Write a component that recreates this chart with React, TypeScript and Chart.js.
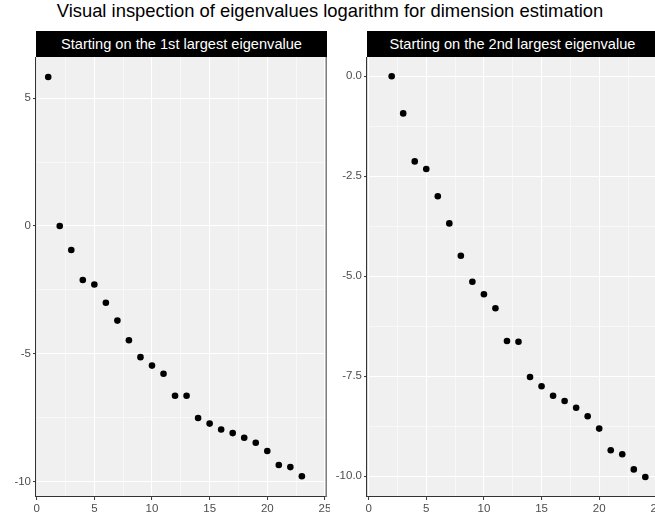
import React, { useEffect, useRef } from "react";
import { Chart, registerables } from "chart.js";

Chart.register(...registerables);

const chartTitle = "Visual inspection of eigenvalues logarithm for dimension estimation";
const leftStrip = "Starting on the 1st largest eigenvalue";
const rightStrip = "Starting on the 2nd largest eigenvalue";

const leftX = [1, 2, 3, 4, 5, 6, 7, 8, 9, 10, 11, 12, 13, 14, 15, 16, 17, 18, 19, 20, 21, 22, 23];
const leftY = [5.83, 0, -0.94, -2.11, -2.29, -3.0, -3.7, -4.47, -5.13, -5.46, -5.78, -6.64, -6.64, -7.51, -7.73, -7.96, -8.1, -8.28, -8.48, -8.8, -9.35, -9.43, -9.79];

const rightX = [2, 3, 4, 5, 6, 7, 8, 9, 10, 11, 12, 13, 14, 15, 16, 17, 18, 19, 20, 21, 22, 23, 24];
const rightY = [0, -0.93, -2.13, -2.32, -3.0, -3.68, -4.49, -5.14, -5.45, -5.8, -6.62, -6.64, -7.52, -7.75, -7.99, -8.12, -8.29, -8.5, -8.81, -9.35, -9.45, -9.83, -10.02];

const xMajor = [0, 5, 10, 15, 20, 25];
const xMinor = [2.5, 7.5, 12.5, 17.5, 22.5];
const xLabels = ["0", "5", "10", "15", "20", "25"];

const leftYMajor = [-10, -5, 0, 5];
const leftYMinor = [-7.5, -2.5, 2.5];
const leftYLabels = ["-10", "-5", "0", "5"];

const rightYMajor = [-10, -7.5, -5, -2.5, 0];
const rightYMinor = [-8.75, -6.25, -3.75, -1.25];
const rightYLabels = ["-10.0", "-7.5", "-5.0", "-2.5", "0.0"];

const FONT = "'Liberation Sans', Arial, sans-serif";

const panelPlugin = {
  id: "panelBg",
  beforeDraw(chart: any) {
    const { ctx, chartArea } = chart;
    ctx.save();
    ctx.fillStyle = "#F0F0F0";
    ctx.fillRect(chartArea.left, chartArea.top, chartArea.right - chartArea.left, chartArea.bottom - chartArea.top);
    ctx.restore();
  },
  afterDraw(chart: any) {
    const { ctx, chartArea } = chart;
    ctx.save();
    ctx.strokeStyle = "#7F7F7F";
    ctx.lineWidth = 1.5;
    ctx.beginPath();
    ctx.moveTo(chartArea.right - 0.75, chartArea.top);
    ctx.lineTo(chartArea.right - 0.75, chartArea.bottom);
    ctx.stroke();
    ctx.restore();
  },
};

function axisOpts(
  min: number,
  max: number,
  major: number[],
  minor: number[],
  labels: string[],
  isX: boolean
) {
  const isMajor = (v: number) => major.some((m) => Math.abs(m - v) < 1e-9);
  return {
    type: "linear" as const,
    position: isX ? "bottom" : "left",
    min,
    max,
    afterBuildTicks(scale: any) {
      scale.ticks = [...major, ...minor].sort((a, b) => a - b).map((v) => ({ value: v }));
    },
    afterFit(scale: any) {
      if (isX) {
        scale.height = 17;
        scale.paddingLeft = 0;
        scale.paddingRight = 0;
      } else {
        scale.width = 36;
        scale.paddingTop = 0;
        scale.paddingBottom = 0;
      }
    },
    grid: {
      color: "#FFFFFF",
      lineWidth: (c: any) => (c.tick && isMajor(c.tick.value) ? 1.1 : 0.55),
      drawTicks: true,
      tickLength: 3,
      tickWidth: 1,
      tickColor: (c: any) => (c.tick && isMajor(c.tick.value) ? "#333333" : "rgba(0,0,0,0)"),
    },
    border: { display: true, color: "#333333", width: 1.1 },
    ticks: {
      autoSkip: false,
      maxRotation: 0,
      minRotation: 0,
      padding: 2,
      color: "#4D4D4D",
      font: { family: FONT, size: 11.5 },
      callback: (v: any) => {
        const i = major.findIndex((m) => Math.abs(m - Number(v)) < 1e-9);
        return i >= 0 ? labels[i] : "";
      },
    },
  };
}

function Panel(props: {
  xs: number[];
  ys: number[];
  xMin: number;
  xMax: number;
  yMin: number;
  yMax: number;
  yMajor: number[];
  yMinor: number[];
  yLabels: string[];
  left: number;
}) {
  const ref = useRef<HTMLCanvasElement | null>(null);
  useEffect(() => {
    if (!ref.current) return;
    const data = props.xs.map((x, i) => ({ x, y: props.ys[i] }));
    const chart = new Chart(ref.current, {
      type: "scatter",
      data: {
        datasets: [
          {
            data,
            pointRadius: 3.3,
            pointBackgroundColor: "#000000",
            pointBorderWidth: 0,
            clip: false as any,
          },
        ],
      },
      options: {
        responsive: false,
        animation: false,
        devicePixelRatio: 1,
        layout: { autoPadding: false, padding: { left: 0, right: 3, top: 0, bottom: 0 } } as any,
        plugins: { legend: { display: false }, tooltip: { enabled: false }, title: { display: false } },
        scales: {
          x: axisOpts(props.xMin, props.xMax, xMajor, xMinor, xLabels, true) as any,
          y: axisOpts(props.yMin, props.yMax, props.yMajor, props.yMinor, props.yLabels, false) as any,
        },
      },
      plugins: [panelPlugin],
    });
    return () => chart.destroy();
  }, []);
  return (
    <canvas
      ref={ref}
      width={330}
      height={457}
      style={{ position: "absolute", left: props.left, top: 57, width: 330, height: 457 }}
    />
  );
}

const stripStyle = (left: number): React.CSSProperties => ({
  position: "absolute",
  left,
  top: 31,
  width: 291,
  height: 26,
  background: "#000000",
  color: "#FFFFFF",
  fontFamily: FONT,
  fontSize: 14.6,
  lineHeight: "26px",
  textAlign: "center",
  whiteSpace: "nowrap",
});

export default function App() {
  return (
    <div
      style={{
        position: "fixed",
        left: 0,
        top: 0,
        width: 655,
        height: 514,
        overflow: "hidden",
        background: "#FFFFFF",
      }}
    >
      <div
        style={{
          position: "absolute",
          left: 0,
          top: 1,
          width: 660,
          textAlign: "center",
          fontFamily: FONT,
          fontSize: 18.4,
          lineHeight: "20px",
          color: "#000000",
          whiteSpace: "nowrap",
        }}
      >
        {chartTitle}
      </div>
      <div style={stripStyle(36)}>{leftStrip}</div>
      <div style={stripStyle(367)}>{rightStrip}</div>
      <Panel
        xs={leftX}
        ys={leftY}
        xMin={-0.06}
        xMax={25.18}
        yMin={-10.6}
        yMax={6.61}
        yMajor={leftYMajor}
        yMinor={leftYMinor}
        yLabels={leftYLabels}
        left={0}
      />
      <Panel
        xs={rightX}
        ys={rightY}
        xMin={-0.14}
        xMax={25.1}
        yMin={-10.52}
        yMax={0.48}
        yMajor={rightYMajor}
        yMinor={rightYMinor}
        yLabels={rightYLabels}
        left={331}
      />
    </div>
  );
}
